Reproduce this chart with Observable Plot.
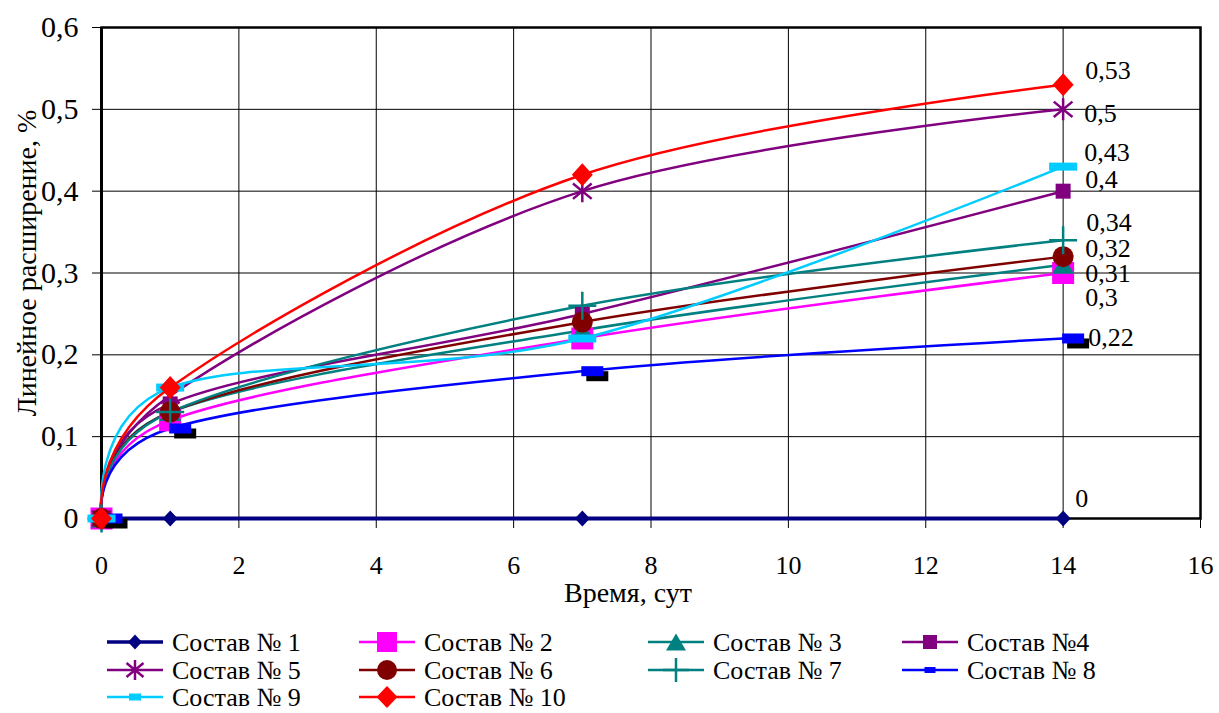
<!DOCTYPE html>
<html><head><meta charset="utf-8">
<script src="https://cdn.jsdelivr.net/npm/d3@7"></script>
<script src="https://cdn.jsdelivr.net/npm/@observablehq/plot@0.6"></script>
<style>
body{margin:0;background:#fff;font-family:"Liberation Serif","Times New Roman",Tinos,"DejaVu Serif",serif;}
#chart{position:relative;width:1219px;height:713px;overflow:hidden;}
#chart svg{display:block;}
#chart svg text{font-family:"Liberation Serif","Times New Roman",Tinos,"DejaVu Serif",serif;}
</style></head><body><div id="chart"></div>
<script>
// ---- data ----
const days = [0, 1, 7, 14];
const seriesNames = ["Состав № 1","Состав № 2","Состав № 3","Состав №4","Состав № 5",
                     "Состав № 6","Состав № 7","Состав № 8","Состав № 9","Состав № 10"];
const v1  = [0, 0,    0,    0];
const v2  = [0, 0.12, 0.22, 0.30];
const v3  = [0, 0.13, 0.23, 0.31];
const v4  = [0, 0.14, 0.25, 0.40];
const v5  = [0, 0.15, 0.40, 0.50];
const v6  = [0, 0.13, 0.24, 0.32];
const v7  = [0, 0.13, 0.26, 0.34];
const v8  = [0, 0.11, 0.18, 0.22];
const v9  = [0, 0.16, 0.22, 0.43];
const v10 = [0, 0.16, 0.42, 0.53];
const seriesValues = [v1, v2, v3, v4, v5, v6, v7, v8, v9, v10];
const xTicks = [0, 2, 4, 6, 8, 10, 12, 14, 16];
const yTicks = [0, 0.1, 0.2, 0.3, 0.4, 0.5, 0.6];
const xTitle = "Время, сут";
const yTitle = "Линейное расширение, %";

const FONT = '"Liberation Serif","Times New Roman",Tinos,"DejaVu Serif",serif';
const fmt = d => d === 0 ? "0" : String(+d.toFixed(2)).replace(".", ",");

// ---- marker shapes ----
const diamond = (w, h) => ({draw(c){c.moveTo(0,-h/2);c.lineTo(w/2,0);c.lineTo(0,h/2);c.lineTo(-w/2,0);c.closePath();}});
const rect = (w, h) => ({draw(c){c.rect(-w/2,-h/2,w,h);}});
const tri = (w, h) => ({draw(c){c.moveTo(0,-h/2);c.lineTo(w/2,h/2);c.lineTo(-w/2,h/2);c.closePath();}});
const circ = d => ({draw(c){c.moveTo(d/2,0);c.arc(0,0,d/2,0,2*Math.PI);c.closePath();}});
const plus = (w, h) => ({draw(c){c.moveTo(-w/2,0);c.lineTo(w/2,0);c.moveTo(0,-h/2);c.lineTo(0,h/2);}});
const aster = s => ({draw(c){const a=s/2;c.moveTo(0,-a);c.lineTo(0,a);c.moveTo(-a*0.85,-a*0.7);c.lineTo(a*0.85,a*0.7);c.moveTo(-a*0.85,a*0.7);c.lineTo(a*0.85,-a*0.7);}});

// ---- styles (per series) ----
const styles = [
  {color:"#000080", w:4,   sym:diamond(15,16), lsym:diamond(14,15), filled:true,  ldx:12, ldy:-20},
  {color:"#FF00FF", w:2.5, sym:rect(22,22),    lsym:rect(20,20),    filled:true,  ldx:22, ldy:25},
  {color:"#008080", w:2.5, sym:tri(22,18),     lsym:tri(20,17),     filled:true,  ldx:22, ldy:9},
  {color:"#800080", w:2.5, sym:rect(15,15),    lsym:rect(14,14),    filled:true,  ldx:22, ldy:-11},
  {color:"#800080", w:2.5, sym:aster(22),      lsym:aster(20),      filled:false, ldx:21, ldy:4},
  {color:"#800000", w:2.5, sym:circ(21),       lsym:circ(20),       filled:true,  ldx:22, ldy:-8},
  {color:"#008080", w:2.5, sym:plus(28,28),    lsym:plus(26,24),    filled:false, ldx:23, ldy:-18},
  {color:"#0000FF", w:2.5, sym:rect(22,10),    lsym:rect(11,6),     filled:true,  ldx:25, ldy:-1, mdx:10, shadow:true},
  {color:"#00CCFF", w:2.5, sym:rect(28,8),     lsym:rect(12,7),     filled:true,  ldx:21, ldy:-14},
  {color:"#FF0000", w:2.5, sym:diamond(21,23), lsym:diamond(21,22), filled:true,  ldx:22, ldy:-14}
];

const rows = seriesValues.map((vals, i) => days.map((d, j) => ({s: i, x: d, y: vals[j]})));

const marks = [
  Plot.gridX(xTicks, {stroke:"#000", strokeOpacity:1, strokeWidth:1}),
  Plot.gridY(yTicks, {stroke:"#000", strokeOpacity:1, strokeWidth:1}),
  Plot.axisY(yTicks, {tickSize:9, tickPadding:14, tickFormat:fmt, fontSize:30, label:null}),
  Plot.axisX(xTicks, {tickSize:10, tickPadding:27, tickFormat:d => String(d), fontSize:26, label:null}),
  Plot.frame({stroke:"#000", strokeWidth:2.5}),
  Plot.ruleX([0], {stroke:"#000", strokeWidth:3})
];
rows.forEach((r, i) => {
  const st = styles[i];
  marks.push(Plot.line(r, {x:"x", y:"y", stroke:st.color, strokeWidth:st.w,
    curve: i === 0 ? "linear" : "cardinal", tension: 0}));
});
rows.forEach((r, i) => {
  const st = styles[i];
  if (st.shadow) marks.push(Plot.dot(r, {x:"x", y:"y", symbol:st.sym, fill:"#000", stroke:"none", dx:(st.mdx||0)+5, dy:5}));
  marks.push(Plot.dot(r, {x:"x", y:"y", symbol:st.sym,
    fill: st.filled ? st.color : "none", stroke: st.filled ? "none" : st.color,
    strokeWidth: st.filled ? 0 : 2.5, dx: st.mdx || 0}));
});
rows.forEach((r, i) => {
  const st = styles[i];
  const last = [r[r.length - 1]];
  marks.push(Plot.text(last, {x:"x", y:"y", text: d => fmt(d.y), textAnchor:"start",
    dx: st.ldx, dy: st.ldy, fontSize:26, fill:"#000"}));
});

const chart = Plot.plot({
  width: 1219, height: 620,
  marginLeft: 101, marginRight: 19, marginTop: 27, marginBottom: 102,
  x: {domain: [0, 16]},
  y: {domain: [0, 0.6]},
  style: {fontFamily: FONT, fontSize: "27px", background: "#fff", color: "#000", overflow: "visible"},
  marks
});
const root = d3.select("#chart");
root.node().appendChild(chart);

// axis titles
const svg = d3.select(chart);
svg.append("text").attr("x", 628).attr("y", 602).attr("text-anchor", "middle")
  .attr("font-size", 28).attr("fill", "#000").text(xTitle);
svg.append("text").attr("transform", "translate(36,263) rotate(-90)").attr("text-anchor", "middle")
  .attr("font-size", 28).attr("fill", "#000").text(yTitle);

// legend below
const colX = [107, 359, 648, 902];
const rowY = [22, 50, 77];
const leg = root.append("svg").attr("width", 1219).attr("height", 93)
  .style("font-family", FONT);
seriesNames.forEach((name, i) => {
  const st = styles[i];
  const cx = colX[i % 4], cy = rowY[Math.floor(i / 4)];
  const g = leg.append("g").attr("transform", `translate(${cx},${cy})`);
  g.append("line").attr("x1", 0).attr("x2", 56).attr("y1", 0).attr("y2", 0)
    .attr("stroke", st.color).attr("stroke-width", i === 0 ? 3.5 : 2.5);
  g.append("path").attr("transform", "translate(28,0)").attr("d", d3.symbol(st.lsym)())
    .attr("fill", st.filled ? st.color : "none").attr("stroke", st.filled ? "none" : st.color)
    .attr("stroke-width", st.filled ? 0 : 2.5);
  g.append("text").attr("x", 65).attr("y", 0).attr("dy", "0.35em").attr("font-size", 26)
    .attr("fill", "#000").text(name);
});
</script></body></html>
